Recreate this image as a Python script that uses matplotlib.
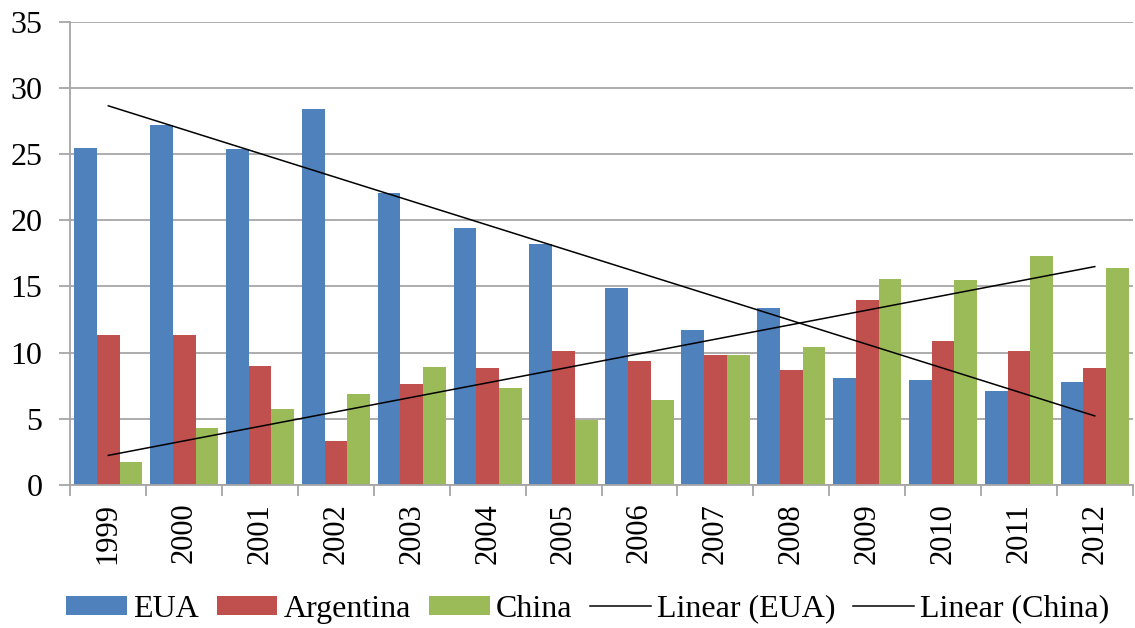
import matplotlib.pyplot as plt
import numpy as np

years = ['1999', '2000', '2001', '2002', '2003', '2004', '2005',
         '2006', '2007', '2008', '2009', '2010', '2011', '2012']
eua = [25.5, 27.2, 25.4, 28.4, 22.1, 19.4, 18.2, 14.9, 11.7, 13.4, 8.1, 7.9, 7.1, 7.8]
argentina = [11.3, 11.3, 9.0, 3.3, 7.6, 8.8, 10.1, 9.4, 9.8, 8.7, 14.0, 10.9, 10.1, 8.8]
china = [1.7, 4.3, 5.7, 6.9, 8.9, 7.3, 4.9, 6.4, 9.8, 10.4, 15.6, 15.5, 17.3, 16.4]


def main():
    plt.rcParams['font.family'] = ['Liberation Serif', 'DejaVu Serif']
    fig = plt.figure(figsize=(11.35, 6.28), dpi=100)
    ax = fig.add_axes([0.062, 0.228, 0.936, 0.737])

    x = np.arange(len(years))
    w = 0.3
    b1 = ax.bar(x - w, eua, w, color='#4F81BD', label='EUA', zorder=2)
    b2 = ax.bar(x, argentina, w, color='#C0504D', label='Argentina', zorder=2)
    b3 = ax.bar(x + w, china, w, color='#9BBB59', label='China', zorder=2)

    # Excel style linear trendlines
    xs = x + 1
    p_eua = np.polyfit(xs, eua, 1)
    p_china = np.polyfit(xs, china, 1)
    l1, = ax.plot(x, np.polyval(p_eua, xs), color='black', lw=1.1,
                  label='Linear (EUA)', zorder=3)
    l2, = ax.plot(x, np.polyval(p_china, xs), color='black', lw=1.1,
                  label='Linear (China)', zorder=3)

    ax.set_xlim(-0.5, len(years) - 0.5)
    ax.set_ylim(0, 35)
    ax.set_yticks(range(0, 36, 5))
    ax.yaxis.grid(True, color='#A6A6A6', lw=1.3, zorder=0)
    ax.set_axisbelow(True)

    ax.set_xticks(x)
    ax.set_xticklabels(years, rotation=90, fontsize=22)
    ax.set_xticks(np.arange(-0.5, len(years)), minor=True)
    ax.tick_params(axis='x', which='major', length=0, pad=13)
    ax.tick_params(axis='x', which='minor', length=8, color='#A6A6A6', width=1.3)
    ax.tick_params(axis='y', labelsize=23, length=8, color='#A6A6A6', width=1.3, pad=12)

    for s in ['top', 'right']:
        ax.spines[s].set_visible(False)
    for s in ['left', 'bottom']:
        ax.spines[s].set_color('#A6A6A6')
        ax.spines[s].set_linewidth(1.3)

    fig.legend(handles=[b1, b2, b3, l1, l2], loc='center',
               bbox_to_anchor=(0.518, 0.03), ncol=5, frameon=False,
               fontsize=23, handlelength=1.9, handletextpad=0.2,
               columnspacing=0.55, handleheight=0.55)

    fig.savefig('out.png', dpi=100)


if __name__ == '__main__':
    main()
